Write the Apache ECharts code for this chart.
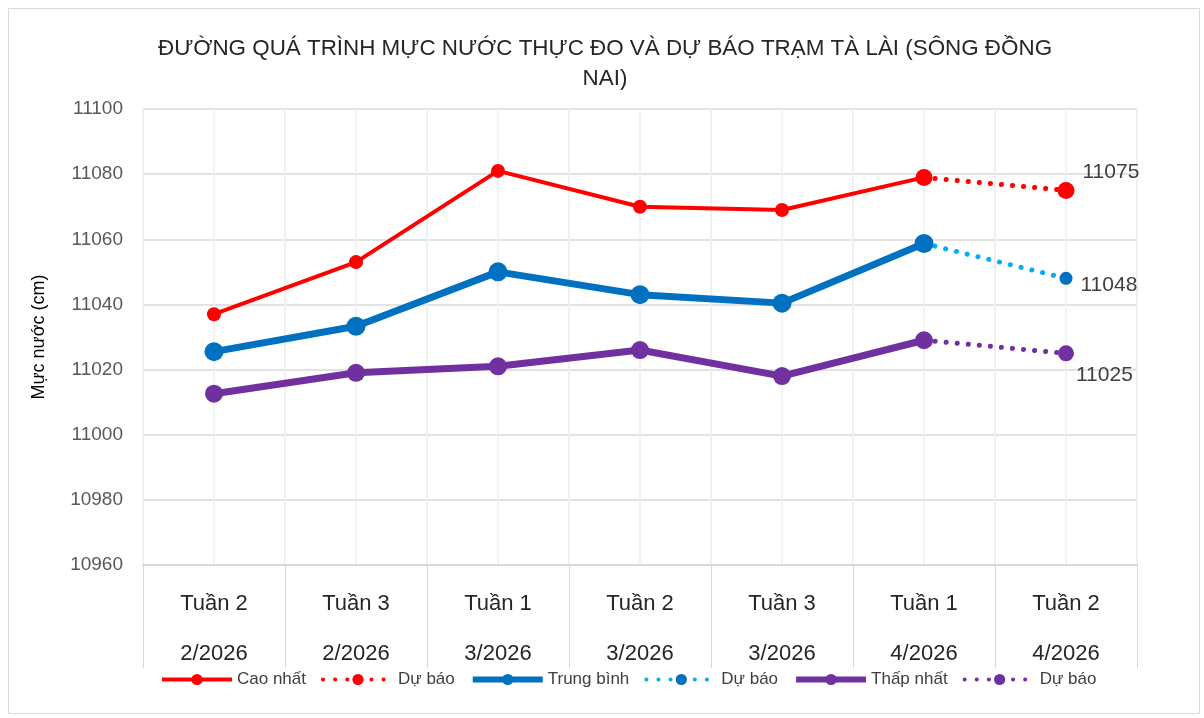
<!DOCTYPE html>
<html>
<head>
<meta charset="utf-8">
<script src="https://cdn.jsdelivr.net/npm/echarts@6/dist/echarts.min.js"></script>
<style>
  html, body { margin: 0; padding: 0; background: #fff; }
  #chart { width: 1204px; height: 718px; }
</style>
</head>
<body>
<div id="chart"></div>
<script>
// chart data
const categories = ["Tuần 2\n2/2026", "Tuần 3\n2/2026", "Tuần 1\n3/2026", "Tuần 2\n3/2026", "Tuần 3\n3/2026", "Tuần 1\n4/2026", "Tuần 2\n4/2026"];
const caoNhat = [11037, 11053, 11081, 11070, 11069, 11079, null];
const caoNhatDuBao = [null, null, null, null, null, 11079, 11075];
const trungBinh = [11025.5, 11033.3, 11050, 11043, 11040.4, 11058.7, null];
const trungBinhDuBao = [null, null, null, null, null, 11058.7, 11048];
const thapNhat = [11012.6, 11019, 11021, 11026, 11018, 11029, null];
const thapNhatDuBao = [null, null, null, null, null, 11029, 11025];
const yMin = 10960, yMax = 11100, yStep = 20;

const FONT = "'Liberation Sans', Arial, sans-serif";
const DOTS = [0.1, 11];

// half-category helper axis so vertical grid lines fall at centres as well
const halfSlots = [];
categories.forEach(() => { halfSlots.push("", ""); });

function withEndLabel(values, offset) {
  return values.map((v, i) => i === values.length - 1 ? {
    value: v,
    label: {
      show: true, position: "right", distance: 8, offset: offset,
      color: "#404040", fontSize: 21, fontFamily: FONT
    }
  } : v);
}

const chart = echarts.init(document.getElementById("chart"));
chart.setOption({
  animation: false,
  graphic: [{
    type: "rect", left: 6, top: 6, shape: { width: 1191, height: 705 },
    style: { fill: "none", stroke: "#d9d9d9", lineWidth: 1 }, silent: true
  }, {
    type: "text", x: 605, y: 34, silent: true,
    style: {
      text: "ĐƯỜNG QUÁ TRÌNH MỰC NƯỚC THỰC ĐO VÀ DỰ BÁO TRẠM TÀ LÀI (SÔNG ĐỒNG\nNAI)",
      align: "center", verticalAlign: "top", lineHeight: 30,
      font: "22.4px 'Liberation Sans', Arial, sans-serif", fill: "#262626"
    }
  }],
  legend: {
    bottom: 25,
    left: 155,
    itemWidth: 70,
    itemHeight: 14,
    itemGap: 15,
    textStyle: { fontFamily: FONT, fontSize: 17, color: "#404040" },
    data: [
      { name: "Cao nhất", lineStyle: { width: 4 } },
      { name: "Dự báo", lineStyle: { width: 4, type: [0.1, 12], cap: "round" } },
      { name: "Trung bình", lineStyle: { width: 6 } },
      { name: "Dự báo\u200b", lineStyle: { width: 4, type: [0.1, 12], cap: "round" } },
      { name: "Thấp nhất", lineStyle: { width: 6 } },
      { name: "Dự báo\u200b\u200b", lineStyle: { width: 4, type: [0.1, 12], cap: "round" } }
    ]
  },
  grid: { left: 143, right: 67, top: 109, bottom: 153 },
  xAxis: [{
    type: "category",
    data: categories,
    boundaryGap: true,
    axisLine: { show: true, lineStyle: { color: "#d9d9d9", width: 2 } },
    axisTick: { show: true, interval: 0, length: 103, lineStyle: { color: "#d9d9d9" } },
    axisLabel: { interval: 0, margin: 14, color: "#262626", fontSize: 22, fontFamily: FONT, lineHeight: 50 },
    splitLine: { show: true, interval: 0, lineStyle: { color: "#efefef", width: 1.5 } }
  }, {
    type: "category",
    data: halfSlots,
    boundaryGap: true,
    position: "bottom",
    axisLine: { show: false },
    axisTick: { show: false },
    axisLabel: { show: false },
    splitLine: { show: true, interval: 0, lineStyle: { color: "#efefef", width: 1.5 } }
  }],
  yAxis: {
    type: "value",
    min: yMin,
    max: yMax,
    interval: yStep,
    name: "Mực nước (cm)",
    nameLocation: "middle",
    nameGap: 95,
    nameTextStyle: { fontFamily: FONT, fontSize: 18, color: "#000" },
    axisLine: { show: false },
    axisTick: { show: false },
    axisLabel: { color: "#595959", fontSize: 19, fontFamily: FONT, margin: 20, formatter: (v) => String(v) },
    splitLine: { lineStyle: { color: "#d9d9d9", width: 1.5 } }
  },
  series: [
    {
      name: "Cao nhất", type: "line", data: caoNhat,
      symbol: "circle", symbolSize: 14,
      lineStyle: { color: "#ff0000", width: 4 },
      itemStyle: { color: "#ff0000" }, z: 3
    },
    {
      name: "Dự báo", type: "line", data: withEndLabel(caoNhatDuBao, [0, -18]),
      symbol: "circle", symbolSize: 17,
      lineStyle: { color: "#ff0000", width: 5, type: DOTS, cap: "round" },
      itemStyle: { color: "#ff0000" }, z: 4
    },
    {
      name: "Trung bình", type: "line", data: trungBinh,
      symbol: "circle", symbolSize: 19,
      lineStyle: { color: "#0070c0", width: 7 },
      itemStyle: { color: "#0070c0" }, z: 3
    },
    {
      name: "Dự báo\u200b", type: "line", data: withEndLabel(trungBinhDuBao, [0, 7]),
      symbol: "circle", symbolSize: 13,
      lineStyle: { color: "#00b0f0", width: 5, type: DOTS, cap: "round" },
      itemStyle: { color: "#0070c0" }, z: 2
    },
    {
      name: "Thấp nhất", type: "line", data: thapNhat,
      symbol: "circle", symbolSize: 18,
      lineStyle: { color: "#7030a0", width: 7 },
      itemStyle: { color: "#7030a0" }, z: 3
    },
    {
      name: "Dự báo\u200b\u200b", type: "line", data: withEndLabel(thapNhatDuBao, [-6, 22]),
      symbol: "circle", symbolSize: 16,
      lineStyle: { color: "#7030a0", width: 5, type: DOTS, cap: "round" },
      itemStyle: { color: "#7030a0" }, z: 2
    }
  ]
});
</script>
</body>
</html>
